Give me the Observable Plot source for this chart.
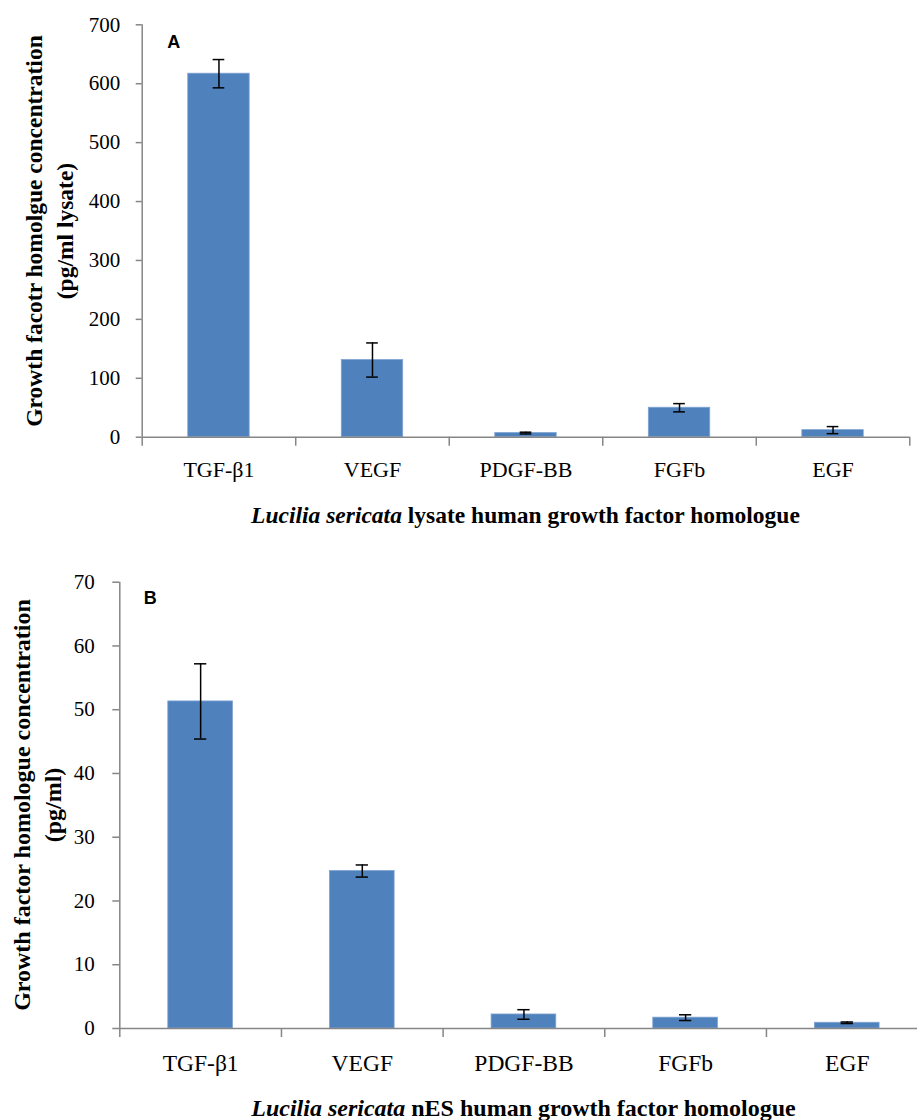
<!DOCTYPE html>
<html>
<head>
<meta charset="utf-8">
<script src="https://cdn.jsdelivr.net/npm/d3@7"></script>
<script src="https://cdn.jsdelivr.net/npm/@observablehq/plot@0.6"></script>
<style>
  body { margin: 0; background: #fff; }
  #wrap { position: relative; width: 917px; height: 1120px; overflow: hidden; background: #fff; }
  .panel { position: absolute; left: 0; }
  .ytitle {
    position: absolute; font-family: "Liberation Serif", serif; font-weight: bold;
    white-space: nowrap; text-align: center; color: #000;
    transform: translate(-50%, -50%) rotate(-90deg);
  }
  .xtitle {
    position: absolute; font-family: "Liberation Serif", serif; font-weight: bold;
    white-space: nowrap; color: #000; transform: translateX(-50%); line-height: 1;
  }
</style>
</head>
<body>
<div id="wrap">
  <div id="panelA" class="panel" style="top:0px"></div>
  <div id="panelB" class="panel" style="top:560px"></div>
  <div class="ytitle" style="left:49.5px; top:230.5px; font-size:23.5px; line-height:31px;">Growth facotr homolgue concentration<br>(pg/ml lysate)</div>
  <div class="xtitle" style="left:525.5px; top:504px; font-size:23.5px;"><i>Lucilia sericata</i> lysate human growth factor homologue</div>
  <div class="ytitle" style="left:37.5px; top:805px; font-size:24px; line-height:31px;">Growth factor homologue concentration<br>(pg/ml)</div>
  <div class="xtitle" style="left:523.5px; top:1096px; font-size:24px;"><i>Lucilia sericata</i> nES human growth factor homologue</div>
</div>
<script>
// ---- data ----
const categories = ["TGF-β1", "VEGF", "PDGF-BB", "FGFb", "EGF"];
const lysateMean = [617, 131, 7, 50, 12];
const lysateErr  = [24, 29, 1.5, 7, 6];
const nesMean = [51.3, 24.7, 2.2, 1.7, 0.9];
const nesErr  = [5.9, 0.95, 0.75, 0.45, 0.12];
const lysateTicks = [0, 100, 200, 300, 400, 500, 600, 700];
const nesTicks = [0, 10, 20, 30, 40, 50, 60, 70];
const panelLetters = ["A", "B"];

const BLUE = "#4F81BD";
const AXIS = "#868686";
const HALF_BAR = 0.2;   // Excel gap width 150%
const HALF_CAP = 0.038;

function rowsOf(means, errs) {
  return categories.map((c, i) => ({
    cat: c, i, c: i + 0.5, mean: means[i], lo: means[i] - errs[i], hi: means[i] + errs[i]
  }));
}

function panel(opts) {
  const rows = rowsOf(opts.means, opts.errs);
  const n = categories.length;
  const boundaries = d3.range(n + 1);
  const centers = d3.range(n).map(i => i + 0.5);
  return Plot.plot({
    width: 917,
    height: opts.height,
    marginTop: opts.marginTop,
    marginBottom: opts.marginBottom,
    marginLeft: opts.marginLeft,
    marginRight: opts.marginRight,
    x: { domain: [0, n] },
    y: { domain: [0, opts.ticks[opts.ticks.length - 1]] },
    style: { fontFamily: "'Liberation Serif', serif", color: "#000", background: "transparent", overflow: "visible" },
    marks: [
      Plot.rectY(rows, { x1: d => d.c - HALF_BAR, x2: d => d.c + HALF_BAR, y1: 0, y2: "mean", fill: BLUE, stroke: "#7ea3d3", strokeWidth: 0.8 }),
      Plot.axisY({ ticks: opts.ticks, tickSize: opts.yTickSize, tickPadding: opts.yTickPadding, stroke: AXIS, strokeWidth: 1.5, fontSize: 21, label: null, tickFormat: d => String(d) }),
      Plot.axisX({ ticks: boundaries, tickSize: 9, tickFormat: () => "", stroke: AXIS, strokeWidth: 1.5, label: null }),
      Plot.axisX({ ticks: centers, tickSize: 0, tickPadding: opts.xTickPadding, fontSize: opts.xFont, label: null, tickFormat: d => categories[Math.floor(d)] }),
      Plot.ruleX([0], { stroke: AXIS, strokeWidth: 1.5 }),
      Plot.ruleY([0], { stroke: AXIS, strokeWidth: 1.5 }),
      Plot.ruleX(rows, { x: "c", y1: "lo", y2: "hi", stroke: "#000", strokeWidth: 1.5 }),
      Plot.ruleY(rows, { y: "lo", x1: d => d.c - HALF_CAP, x2: d => d.c + HALF_CAP, stroke: "#000", strokeWidth: 1.5 }),
      Plot.ruleY(rows, { y: "hi", x1: d => d.c - HALF_CAP, x2: d => d.c + HALF_CAP, stroke: "#000", strokeWidth: 1.5 }),
      Plot.text([opts.letter], { frameAnchor: "top-left", text: d => d, dx: opts.letterDx, dy: opts.letterDy, lineAnchor: "top", textAnchor: "start", fontFamily: "'Liberation Sans', sans-serif", fontWeight: "bold", fontSize: 18, fill: "#000" })
    ]
  });
}

document.getElementById("panelA").append(panel({
  means: lysateMean, errs: lysateErr, ticks: lysateTicks, letter: panelLetters[0],
  height: 490, marginTop: 24.3, marginBottom: 53.3, marginLeft: 141.7, marginRight: 7.7,
  yTickSize: 6, yTickPadding: 16, xTickPadding: 24, xFont: 22, letterDx: 25, letterDy: 10
}));

document.getElementById("panelB").append(panel({
  means: nesMean, errs: nesErr, ticks: nesTicks, letter: panelLetters[1],
  height: 560, marginTop: 21.7, marginBottom: 92, marginLeft: 119.3, marginRight: -10.6,
  yTickSize: 7, yTickPadding: 18, xTickPadding: 26, xFont: 23.5, letterDx: 24, letterDy: 9
}));
</script>
</body>
</html>
